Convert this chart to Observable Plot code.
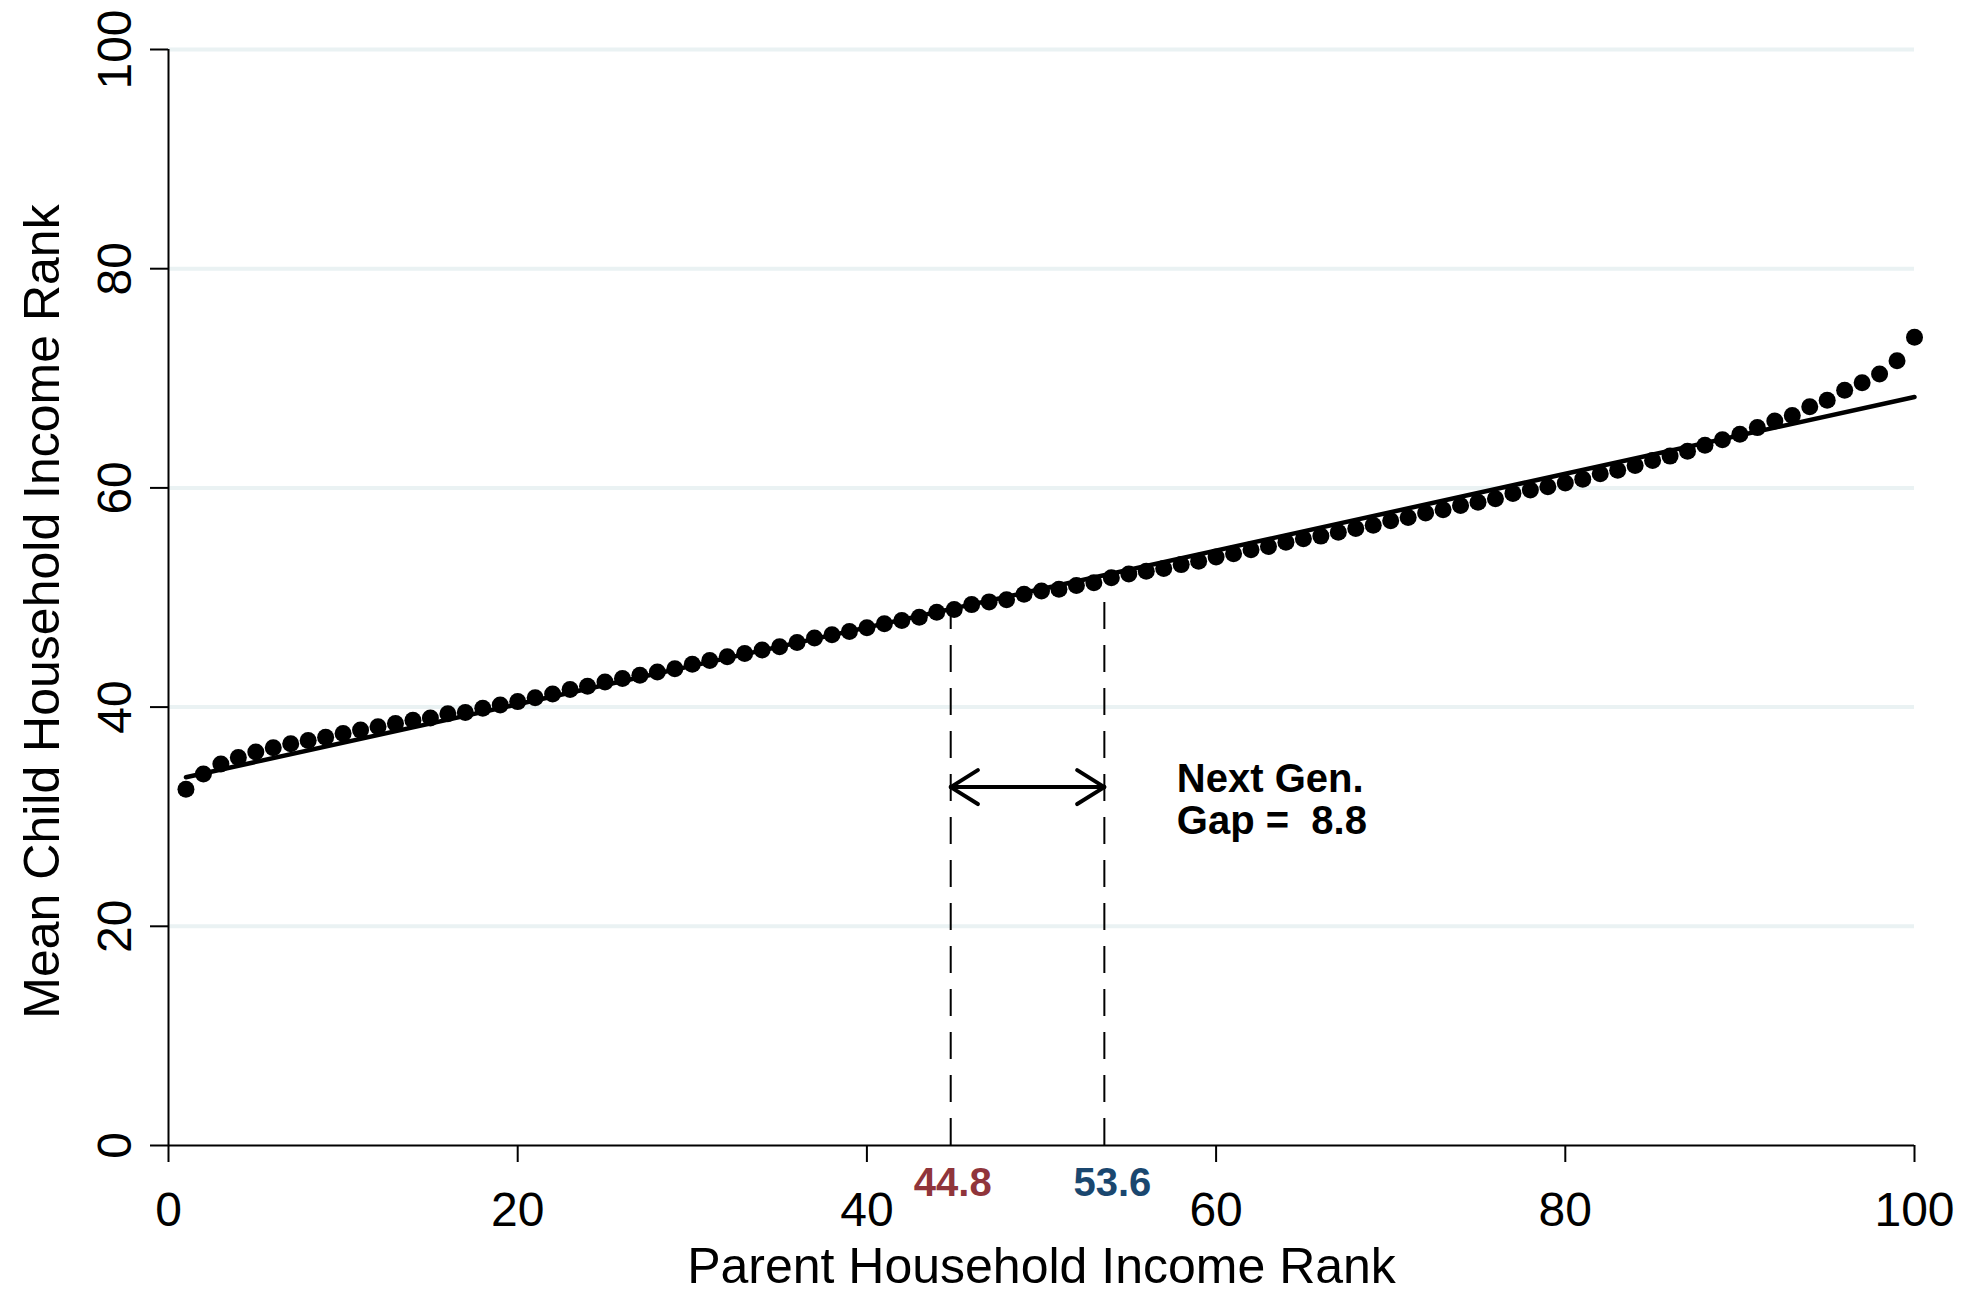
<!DOCTYPE html>
<html>
<head>
<meta charset="utf-8">
<script src="https://cdn.jsdelivr.net/npm/d3@7"></script>
<script src="https://cdn.jsdelivr.net/npm/@observablehq/plot@0.6"></script>
<style>
  html, body { margin: 0; padding: 0; background: #ffffff; }
  svg text { white-space: pre; }
</style>
</head>
<body>
<div id="chart"></div>
<script>
// ---- data ----
const parentRank = [1,2,3,4,5,6,7,8,9,10,11,12,13,14,15,16,17,18,19,20,
  21,22,23,24,25,26,27,28,29,30,31,32,33,34,35,36,37,38,39,40,
  41,42,43,44,45,46,47,48,49,50,51,52,53,54,55,56,57,58,59,60,
  61,62,63,64,65,66,67,68,69,70,71,72,73,74,75,76,77,78,79,80,
  81,82,83,84,85,86,87,88,89,90,91,92,93,94,95,96,97,98,99,100];
const childRank = [32.5,33.9,34.8,35.4,35.9,36.3,36.65,36.95,37.25,37.6,
  37.9,38.2,38.5,38.8,39.0,39.4,39.5,39.9,40.2,40.5,
  40.85,41.2,41.6,41.9,42.3,42.6,42.9,43.2,43.5,43.9,
  44.25,44.6,44.9,45.2,45.5,45.9,46.3,46.6,46.9,47.25,
  47.6,47.9,48.2,48.65,48.9,49.35,49.6,49.8,50.3,50.6,
  50.75,51.1,51.35,51.8,52.15,52.4,52.65,53.0,53.3,53.7,
  54.0,54.35,54.65,55.05,55.35,55.6,55.95,56.3,56.6,57.0,
  57.3,57.7,58.0,58.4,58.7,59.0,59.5,59.8,60.1,60.45,
  60.8,61.3,61.6,62.05,62.5,62.9,63.35,63.9,64.4,64.9,
  65.5,66.1,66.6,67.4,68.0,68.9,69.6,70.4,71.6,73.75];
const fitX = [1, 100];
const fitY = [33.6, 68.3];
const markerX = [44.8, 53.6];
const markerTop = [48.8, 49.9];
const markerLabels = ["44.8", "53.6"];
const markerColors = ["#90353B", "#1A476F"];
const arrowY = 32.7;
const gapText = "Next Gen.\nGap =  8.8";
const gapTextX = 57.75;
const gapTextY = 31.6;
const xTicks = [0, 20, 40, 60, 80, 100];
const yTicks = [0, 20, 40, 60, 80, 100];
const gridY = [20, 40, 60, 80, 100];
const xTitle = "Parent Household Income Rank";
const yTitle = "Mean Child Household Income Rank";

// ---- tables ----
const points = parentRank.map((x, i) => ({x, y: childRank[i]}));
const fit = fitX.map((x, i) => ({x, y: fitY[i]}));
const markers = markerX.map((x, i) => ({x, top: markerTop[i], label: markerLabels[i], color: markerColors[i]}));
const arrows = [
  {x1: markerX[0], x2: markerX[1]},
  {x1: markerX[1], x2: markerX[0]}
];

const labelStyle = {x: "x", text: "label", frameAnchor: "bottom", dy: 38, lineAnchor: "middle", fontSize: 40, fontWeight: "bold", fill: "color"};

const chart = Plot.plot({
  width: 1977,
  height: 1296,
  marginLeft: 168,
  marginRight: 63,
  marginTop: 49,
  marginBottom: 151,
  style: {fontFamily: "'Liberation Sans', Arial, Helvetica, sans-serif", background: "#ffffff", color: "#000"},
  x: {domain: [0, 100]},
  y: {domain: [0, 100]},
  marks: [
    Plot.ruleY(gridY, {x1: 0, x2: 100, stroke: "#EAF2F3", strokeWidth: 4}),
    Plot.ruleX(markers, {x: "x", y1: 0, y2: "top", stroke: "#000", strokeWidth: 2, strokeDasharray: "27,16"}),
    Plot.line(fit, {x: "x", y: "y", stroke: "#000", strokeWidth: 4.5}),
    Plot.dot(points, {x: "x", y: "y", r: 8.5, fill: "#000", stroke: "none"}),
    Plot.arrow(arrows, {x1: "x1", x2: "x2", y1: arrowY, y2: arrowY, stroke: "#000", strokeWidth: 4, headLength: 12, headAngle: 64}),
    Plot.text([gapText], {x: gapTextX, y: gapTextY, textAnchor: "start", lineAnchor: "middle", fontSize: 40, fontWeight: "bold", lineHeight: 1.05, fill: "#000"}),
    Plot.ruleX([0], {y1: 0, y2: 100, stroke: "#000", strokeWidth: 2}),
    Plot.ruleY([0], {x1: 0, x2: 100, stroke: "#000", strokeWidth: 2}),
    Plot.axisX({ticks: xTicks, tickSize: 17, tickPadding: 29, fontSize: 48, strokeWidth: 2, label: null, tickFormat: d => String(d)}),
    Plot.axisY({ticks: yTicks, tickSize: 18, tickPadding: 20, tickRotate: -90, fontSize: 48, strokeWidth: 2, label: null, tickFormat: d => String(d)}),
    Plot.text(markers.slice(0, 1), {...labelStyle, dx: 2}),
    Plot.text(markers.slice(1, 2), {...labelStyle, dx: 8}),
    Plot.text([xTitle], {frameAnchor: "bottom", dy: 121, lineAnchor: "middle", fontSize: 50, fill: "#000"}),
    Plot.text([yTitle], {frameAnchor: "left", dx: -126, dy: 14, rotate: -90, textAnchor: "middle", lineAnchor: "middle", fontSize: 50, fill: "#000"})
  ]
});
document.getElementById("chart").appendChild(chart);
</script>
</body>
</html>
